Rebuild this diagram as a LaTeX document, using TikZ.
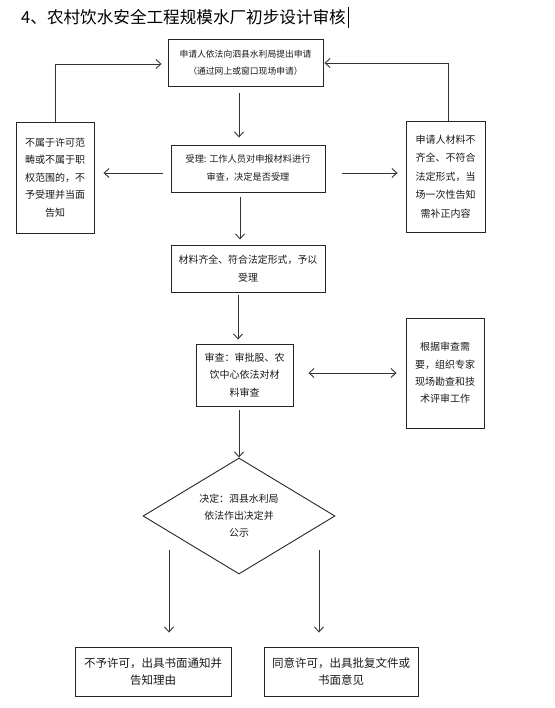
\documentclass[tikz,border=0pt]{standalone}
\usepackage{fontspec}
\setmainfont{Noto Sans CJK SC}
\usetikzlibrary{arrows.meta,shapes.geometric,calc}
\begin{document}
\begin{tikzpicture}[x=1pt,y=-1pt,
  boxstyle/.style={draw=black!85,line width=0.9pt,inner sep=0pt,align=center,text=black!90},
  arr/.style={draw=black!80,line width=0.9pt,-{Straight Barb[length=5pt,width=9pt]}},
  darr/.style={draw=black!80,line width=0.9pt,{Straight Barb[length=5pt,width=9pt]}-{Straight Barb[length=5pt,width=9pt]}}]
\useasboundingbox (0,0) rectangle (554,708);
% title
\node[anchor=west,inner sep=0pt,font=\fontsize{16.6}{18}\selectfont] (title) at (21,17) {4、农村饮水安全工程规模水厂初步设计审核};
\draw[line width=1pt] (348,7) -- (348,28);
% boxes
\node[boxstyle,minimum width=155,minimum height=47,font=\fontsize{8.8}{17}\selectfont] (b1) at (245.5,62.5) {申请人依法向泗县水利局提出申请\\（通过网上或窗口现场申请）};
\node[boxstyle,minimum width=154,minimum height=47,font=\fontsize{9.2}{18}\selectfont] (b2) at (248,168.5) {受理: 工作人员对申报材料进行\\审查，决定是否受理};
\node[boxstyle,minimum width=78,minimum height=111,font=\fontsize{10}{17.5}\selectfont] (lb) at (55,177.5) {不属于许可范\\畴或不属于职\\权范围的，不\\予受理并当面\\告知};
\node[boxstyle,minimum width=79,minimum height=111,font=\fontsize{10}{18.5}\selectfont] (rb1) at (445.5,176.5) {申请人材料不\\齐全、不符合\\法定形式，当\\场一次性告知\\需补正内容};
\node[boxstyle,minimum width=154,minimum height=47,font=\fontsize{9.9}{18}\selectfont] (b3) at (248,268.5) {材料齐全、符合法定形式，予以\\受理};
\node[boxstyle,minimum width=97,minimum height=62,font=\fontsize{10}{17.5}\selectfont] (b4) at (244.5,375) {审查：审批股、农\\饮中心依法对材\\料审查};
\node[boxstyle,minimum width=78,minimum height=110,font=\fontsize{10}{17.3}\selectfont] (rb4) at (445,373) {根据审查需\\要，组织专家\\现场勘查和技\\术评审工作};
\node[boxstyle,diamond,shape aspect=1.655,minimum width=192,minimum height=116,font=\fontsize{9.9}{17}\selectfont] (d) at (239,516) {决定：泗县水利局\\依法作出决定并\\公示};
\node[boxstyle,minimum width=156,minimum height=49,font=\fontsize{11.5}{17}\selectfont] (bl) at (153,671.5) {不予许可，出具书面通知并\\告知理由};
\node[boxstyle,minimum width=154,minimum height=49,font=\fontsize{11.5}{17}\selectfont] (br) at (341,671.5) {同意许可，出具批复文件或\\书面意见};
% free starts under the diamond
\coordinate (dl) at (169,550);
\coordinate (dr) at (319,550);
% connectors
\draw[arr] ($(b1.south)+(-6.5,7)$) -- ($(b2.north)+(-9,-7)$);
\draw[arr] ($(b2.west)+(-8,4.5)$) -- ($(lb.east)+(9,-4.5)$);
\draw[arr] ($(b2.east)+(17,4.5)$) -- ($(rb1.west)+(-8,-3.5)$);
\draw[arr] ($(b2.south)+(-8,5)$) -- ($(b3.north)+(-8,-5)$);
\draw[arr] ($(b3.south)+(-10,3)$) -- ($(b4.north)+(-6.5,-4)$);
\draw[darr] ($(b4.east)+(15,-2)$) -- ($(rb4.west)+(-9,0)$);
\draw[arr] ($(b4.south)+(-5.5,4)$) -- (d.north);
\draw[arr] (dl) -- ($(bl.north)+(16,-14)$);
\draw[arr] (dr) -- ($(br.north)+(-22,-14)$);
\draw[arr] (lb.north) |- ($(b1.west)+(-6,1.5)$);
\draw[arr] ($(rb1.north)+(2.5,0)$) |- ($(b1.east)+(1,0.5)$);
\end{tikzpicture}
\end{document}
